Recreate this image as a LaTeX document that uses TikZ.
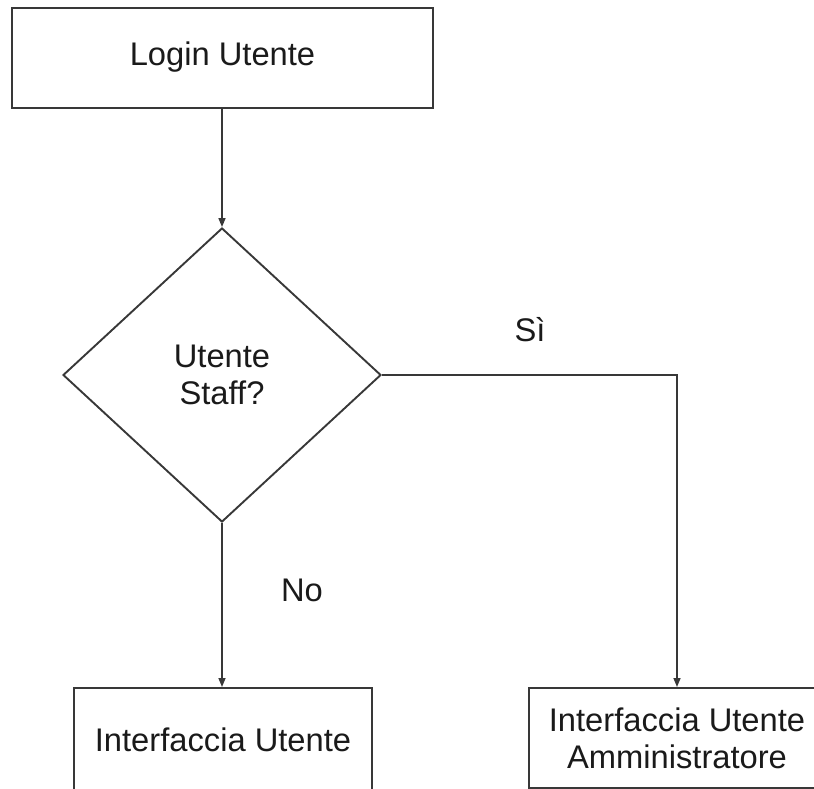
\documentclass[tikz,border=0pt]{standalone}
\usepackage{fontspec}
\setmainfont{Liberation Sans}
\usetikzlibrary{arrows.meta,shapes.geometric}
\definecolor{edge}{HTML}{383838}
\definecolor{ink}{HTML}{1A1A1A}
\begin{document}
\begin{tikzpicture}[x=1pt,y=-1pt,
  txt/.style={text=ink,font=\fontsize{32.7}{37}\selectfont},
  box/.style={txt,draw=edge,line width=2pt,rectangle,align=center,inner sep=0pt},
  decision/.style={txt,draw=edge,line width=1.9pt,diamond,align=center,inner sep=0pt,
    minimum width=318pt,minimum height=294pt},
  flow/.style={draw=edge,line width=1.5pt,-{Triangle[length=9pt,width=7pt]}}]
  \useasboundingbox (0,0) rectangle (814,788);
  \clip (0,0) rectangle (814,788);

  % process steps and the decision
  \node[box,minimum width=421pt,minimum height=100pt] (login) at (222.5,57.5) {Login Utente};
  \node[decision] (staff) at (222,375) {Utente\\Staff?};
  \node[box,minimum width=298pt,minimum height=104pt] (user) at (223,740) {Interfaccia Utente};
  \node[box,minimum width=296pt,minimum height=100pt] (admin) at (677,738) {Interfaccia Utente\\Amministratore};

  % connectors
  \draw[flow] (login.south -| staff.north) -- (staff.north);
  \draw[flow] (staff.south) -- (user.north -| staff.south);
  \draw[flow] (staff.east) -| (admin.north);

  % branch labels
  \node[txt] (yes) at (530,330) {Sì};
  \node[txt] (no) at (302,590) {No};
\end{tikzpicture}
\end{document}
